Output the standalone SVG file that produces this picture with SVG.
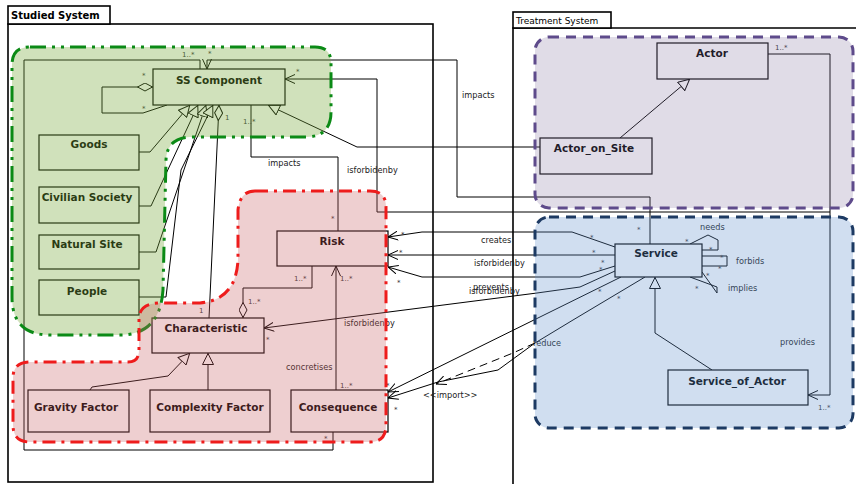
<svg xmlns="http://www.w3.org/2000/svg" width="856" height="484" viewBox="0 0 856 484">
<style>
.bx{fill:#fff;stroke:#000;stroke-width:1.2}
.bl{font-family:"DejaVu Sans",sans-serif;font-weight:bold;font-size:10.5px;fill:#000;text-anchor:middle}
.ln{fill:none;stroke:#000;stroke-width:1}
.lb{font-family:"DejaVu Sans",sans-serif;font-size:8.2px;fill:#222}
.m{font-family:"DejaVu Sans",sans-serif;font-size:7px;fill:#333}
.fr{fill:#fff;stroke:#000;stroke-width:1.6}
</style>
<defs>
<marker id="open" viewBox="0 0 10 10" refX="10" refY="5" markerWidth="10" markerHeight="10" markerUnits="userSpaceOnUse" orient="auto"><path d="M0,0.5 L10,5 L0,9.5" fill="none" stroke="#000" stroke-width="1"/></marker>
<marker id="tri" viewBox="0 0 12 12" refX="12" refY="6" markerWidth="12" markerHeight="12" markerUnits="userSpaceOnUse" orient="auto"><path d="M0.5,0.5 L11.5,6 L0.5,11.5 Z" fill="#fff" stroke="#000" stroke-width="1"/></marker>
<marker id="dia" viewBox="0 0 16 9" refX="16" refY="4.5" markerWidth="16" markerHeight="9" markerUnits="userSpaceOnUse" orient="auto"><path d="M0.5,4.5 L8,0.5 L15.5,4.5 L8,8.5 Z" fill="#fff" stroke="#000" stroke-width="1"/></marker>
</defs>
<rect width="856" height="484" fill="#fff"/>
<g id="frame-studied">
<rect class="fr" x="8" y="24" width="425" height="458"/>
<rect class="fr" x="8" y="6" width="102" height="18"/>
<text x="11" y="19" style="font-family:'DejaVu Sans',sans-serif;font-weight:bold;font-size:10px">Studied System</text>
</g>
<g id="frame-treatment">
<path d="M856,28 H513 V484" fill="none" stroke="#000" stroke-width="1.6"/>
<rect class="fr" x="513" y="12" width="98" height="16"/>
<text x="516" y="24" style="font-family:'DejaVu Sans',sans-serif;font-size:9px">Treatment System</text>
</g>
<g id="connectors">
<path class="ln" d="M333,432 V450 H24 V60 H200 V69"/>
<path class="ln" d="M650,244 V197 H457 V60 H207 V69" marker-end="url(#open)"/>
<path class="ln" d="M830,212 H377 V79 H285" marker-end="url(#open)"/>
<path class="ln" d="M540,147 H357 L268,105" marker-end="url(#tri)"/>
<path class="ln" d="M251,105 V157 H338 V231"/>
<path class="ln" d="M209,318 L219,105" marker-end="url(#dia)"/>
<path class="ln" d="M167,105 L143,113 H102 V87 H153" marker-end="url(#dia)"/>
<path class="ln" d="M139,152 H150 L190,105" marker-end="url(#tri)"/>
<path class="ln" d="M139,206 H151 L198,105" marker-end="url(#tri)"/>
<path class="ln" d="M139,252 H156 L206,105" marker-end="url(#tri)"/>
<path class="ln" d="M139,297 H166 L181,170 L213,105" marker-end="url(#tri)"/>
<path class="ln" d="M312,266 V288 H243 V318" marker-end="url(#dia)"/>
<path class="ln" d="M336,390 V266" marker-end="url(#open)"/>
<path class="ln" d="M90,390 L92,387 L168,376 L190,353" marker-end="url(#tri)"/>
<path class="ln" d="M208,390 V353" marker-end="url(#tri)"/>
<path class="ln" d="M615,247 L572,232 H422 L388,237" marker-end="url(#open)"/>
<path class="ln" d="M615,255 H388" marker-end="url(#open)"/>
<path class="ln" d="M615,266 L580,277 H422 L388,267" marker-end="url(#open)"/>
<path class="ln" d="M615,271 L580,287 L537,293 L264,328" marker-end="url(#open)"/>
<path class="ln" d="M621,277 L388,392" marker-end="url(#open)"/>
<path class="ln" d="M645,277 L573,320 L535,343 L498,370 L438,382 L388,398" marker-end="url(#open)"/>
<path class="ln" d="M535,343 L513,353 L436,384" stroke-dasharray="8 5" marker-end="url(#open)"/>
<path class="ln" d="M768,54 H830 V395 H808" marker-end="url(#open)"/>
<path class="ln" d="M620,138 L690,79" marker-end="url(#tri)"/>
<path class="ln" d="M712,370 L655,333 V277" marker-end="url(#tri)"/>
<path class="ln" d="M690,244 L708,235 L718,240 V250 L702,250"/>
<path class="ln" d="M702,256 H727 V266 H702"/>
<path class="ln" d="M690,277 L717,287 V293 L702,272"/>
</g>
<g id="ss-component"><rect class="bx" x="153" y="69" width="132" height="36"/><text class="bl" x="219" y="84">SS Component</text></g>
<g id="goods"><rect class="bx" x="39" y="135" width="100" height="35"/><text class="bl" x="89" y="148">Goods</text></g>
<g id="civilian-society"><rect class="bx" x="39" y="187" width="100" height="36"/><text class="bl" x="87" y="201">Civilian Society</text></g>
<g id="natural-site"><rect class="bx" x="39" y="235" width="100" height="34"/><text class="bl" x="87" y="248">Natural Site</text></g>
<g id="people"><rect class="bx" x="39" y="280" width="100" height="35"/><text class="bl" x="87" y="295">People</text></g>
<g id="risk"><rect class="bx" x="277" y="231" width="111" height="35"/><text class="bl" x="332" y="245">Risk</text></g>
<g id="characteristic"><rect class="bx" x="152" y="318" width="112" height="35"/><text class="bl" x="206" y="332">Characteristic</text></g>
<g id="gravity-factor"><rect class="bx" x="28" y="390" width="101" height="42"/><text class="bl" x="76" y="411">Gravity Factor</text></g>
<g id="complexity-factor"><rect class="bx" x="150" y="390" width="120" height="42"/><text class="bl" x="210" y="411">Complexity Factor</text></g>
<g id="consequence"><rect class="bx" x="291" y="390" width="97" height="42"/><text class="bl" x="338" y="411">Consequence</text></g>
<g id="actor"><rect class="bx" x="657" y="43" width="111" height="36"/><text class="bl" x="712" y="57">Actor</text></g>
<g id="actor-on-site"><rect class="bx" x="540" y="138" width="112" height="36"/><text class="bl" x="594" y="152">Actor_on_Site</text></g>
<g id="service"><rect class="bx" x="615" y="244" width="87" height="33"/><text class="bl" x="656" y="257">Service</text></g>
<g id="service-of-actor"><rect class="bx" x="668" y="370" width="140" height="35"/><text class="bl" x="737" y="385">Service_of_Actor</text></g>
<g id="labels">
<text class="lb" x="268" y="166">impacts</text>
<text class="lb" x="347" y="173">isforbidenby</text>
<text class="lb" x="462" y="98">impacts</text>
<text class="lb" x="481" y="243">creates</text>
<text class="lb" x="474" y="266">isforbidenby</text>
<text class="lb" x="473" y="290">prevents</text>
<text class="lb" x="469" y="294">isforbidenby</text>
<text class="lb" x="344" y="326">isforbidenby</text>
<text class="lb" x="286" y="370">concretises</text>
<text class="lb" x="533" y="346">reduce</text>
<text class="lb" x="423" y="398">&lt;&lt;import&gt;&gt;</text>
<text class="lb" x="780" y="345">provides</text>
<text class="lb" x="700" y="230">needs</text>
<text class="lb" x="736" y="264">forbids</text>
<text class="lb" x="728" y="291">implies</text>
<text class="m" x="182" y="57">1..*</text>
<text class="m" x="208" y="56">*</text>
<text class="m" x="142" y="78">*</text>
<text class="m" x="142" y="111">*</text>
<text class="m" x="296" y="74">*</text>
<text class="m" x="225" y="120">1</text>
<text class="m" x="243" y="124">1..*</text>
<text class="m" x="199" y="313">1</text>
<text class="m" x="331" y="221">*</text>
<text class="m" x="294" y="281">1..*</text>
<text class="m" x="340" y="281">1..*</text>
<text class="m" x="248" y="304">1..*</text>
<text class="m" x="340" y="388">1..*</text>
<text class="m" x="266" y="342">*</text>
<text class="m" x="324" y="441">*</text>
<text class="m" x="386" y="388">*</text>
<text class="m" x="394" y="412">*</text>
<text class="m" x="401" y="237">*</text>
<text class="m" x="399" y="255">*</text>
<text class="m" x="397" y="285">*</text>
<text class="m" x="590" y="240">*</text>
<text class="m" x="592" y="255">*</text>
<text class="m" x="601" y="265">*</text>
<text class="m" x="599" y="272">*</text>
<text class="m" x="598" y="294">*</text>
<text class="m" x="617" y="301">*</text>
<text class="m" x="637" y="232">*</text>
<text class="m" x="685" y="244">*</text>
<text class="m" x="709" y="252">*</text>
<text class="m" x="720" y="260">*</text>
<text class="m" x="718" y="271">*</text>
<text class="m" x="706" y="278">*</text>
<text class="m" x="695" y="291">*</text>
<text class="m" x="775" y="50">1..*</text>
<text class="m" x="818" y="410">1..*</text>
</g>
<g id="regions">
<path d="M30,47 H315 Q331,47 331,63 V112 Q331,136 307,137 H190 Q167,138 166,160 L163,290 Q160,335 120,335 H50 Q12,335 12,297 V65 Q12,47 30,47 Z" fill="rgb(120,170,60)" fill-opacity="0.35" stroke="#0b8a16" stroke-width="3" stroke-dasharray="16 6 3 6 3 6"/>
<path d="M255,191 H370 Q386,191 386,207 V425 Q386,442 370,442 H30 Q13,442 13,425 V378 Q13,362 30,362 H128 Q139,362 139,350 V318 Q140,303 160,303 H200 Q236,300 238,260 V210 Q240,191 255,191 Z" fill="rgb(200,95,100)" fill-opacity="0.3" stroke="#ee1c1c" stroke-width="3" stroke-dasharray="13 6 3 6"/>
<rect x="535" y="37" width="318" height="171" rx="14" fill="rgb(130,115,160)" fill-opacity="0.25" stroke="#5e4b8b" stroke-width="3" stroke-dasharray="10 7"/>
<rect x="535" y="217" width="318" height="211" rx="14" fill="rgb(100,145,205)" fill-opacity="0.3" stroke="#1d3a63" stroke-width="3" stroke-dasharray="10 7"/>
</g>
</svg>
